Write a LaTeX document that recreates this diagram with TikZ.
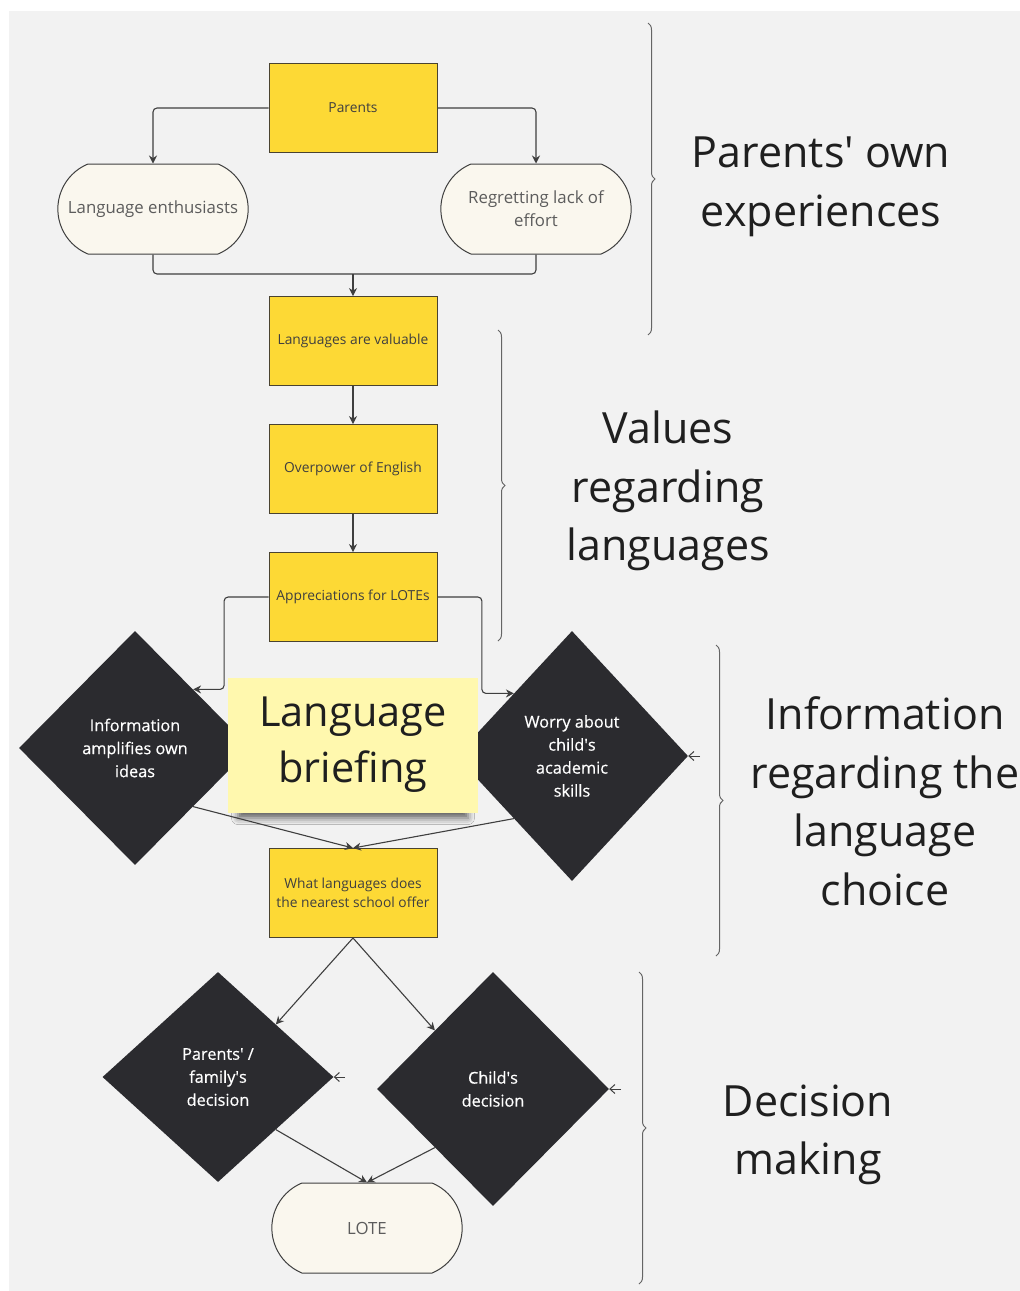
\documentclass[tikz,border=0pt]{standalone}
\usepackage{fontspec}
\setmainfont{Open Sans}
\newfontfamily\decfont{Open Sans}[FakeBold=0.45]
\usepackage{tikz}
\usetikzlibrary{shapes.geometric,shapes.misc,arrows.meta}
\usetikzlibrary{decorations.pathreplacing,shadows.blur}

\definecolor{bggray}{HTML}{F2F2F2}
\definecolor{boxyellow}{HTML}{FDD935}
\definecolor{boxline}{HTML}{4A4330}
\definecolor{termcream}{HTML}{FAF7EE}
\definecolor{decdark}{HTML}{2B2B2F}
\definecolor{notepale}{HTML}{FFF8AE}
\definecolor{inkgray}{HTML}{3F3F3F}
\definecolor{labelink}{HTML}{1F1F1F}

\tikzset{
	box/.style={rectangle, draw=boxline, line width=0.9pt, fill=boxyellow, minimum width=168pt, minimum height=89pt, inner sep=2pt, align=center, text=inkgray, font=\fontsize{13.8}{19}\selectfont},
	term/.style={rounded rectangle, rounded rectangle arc length=135, draw=inkgray, line width=1pt, fill=termcream, minimum width=197pt, minimum height=90pt, align=center, text=inkgray!85, font=\fontsize{16.8}{23}\selectfont},
	dec/.style={diamond, fill=decdark, inner sep=0pt, align=center, text=white, font=\decfont\fontsize{16.3}{23}\selectfont},
	note/.style={rectangle, fill=notepale, minimum width=250pt, minimum height=135pt, align=center, text=labelink, font=\fontsize{41.5}{56}\selectfont, blur shadow={shadow xshift=0pt, shadow yshift=-12pt, shadow scale=0.92, shadow blur radius=7pt, shadow opacity=60}},
	lbl/.style={align=center, text=labelink, font=\fontsize{43}{58.5}\selectfont},
	arr/.style={-{Stealth[length=8pt,width=8pt]}, inkgray, line width=1.1pt},
	stub/.style={-{Straight Barb[length=5pt,width=9pt]}, inkgray, line width=1pt},
	brc/.style={decorate, decoration={brace, amplitude=7pt}, draw=inkgray!80, line width=1pt},
}

\begin{document}
\begin{tikzpicture}[x=1pt, y=-1pt]
	\useasboundingbox (0,0) rectangle (1020,1291);
	\fill[bggray] (9,11) rectangle (1020,1291);

	\node[box] (parents) at (353,108) {Parents};
	\node[term] (enth) at (153,209) {Language enthusiasts};
	\node[term] (regret) at (536,209) {Regretting lack of\\effort};
	\node[box] (valuable) at (353,341) {Languages are valuable};
	\node[box] (overpower) at (353,469) {Overpower of English};
	\node[box] (apprec) at (353,597) {Appreciations for LOTEs};
	\node[dec, minimum width=232pt, minimum height=234pt] (infoamp) at (135,748) {Information\\amplifies own\\ideas};
	\node[dec, minimum width=232pt, minimum height=250pt] (worry) at (572,756) {Worry about\\child\textquotesingle s\\academic\\skills};
	\node[note] (briefing) at (353,745) {Language\\briefing};
	\node[box] (school) at (353,893) {What languages does\\the nearest school offer};
	\node[dec, minimum width=231pt, minimum height=210pt] (familydec) at (218,1077) {Parents\textquotesingle\ /\\family\textquotesingle s\\decision};
	\node[dec, minimum width=232pt, minimum height=234pt] (kiddec) at (493,1089) {Child\textquotesingle s\\decision};
	\node[term] (lote) at (367,1228) {LOTE};

	\node[lbl] (own) at (821,187) {Parents\textquotesingle\ own\\experiences};
	\node[lbl] (values) at (668,491) {Values\\regarding\\languages};
	\node[lbl] (infochoice) at (885,801) {Information\\regarding the\\language\\choice};
	\node[lbl] (deciding) at (808,1135) {Decision\\making};

	\coordinate (join) at (353,274);
	\coordinate (worryin) at (700,756);
	\coordinate (familyin) at (345,1077);
	\coordinate (kidin) at (621,1089);

	\draw[arr, rounded corners=4pt] (parents.west) -| (enth.north);
	\draw[arr, rounded corners=4pt] (parents.east) -| (regret.north);
	\draw[inkgray, line width=1.1pt, rounded corners=4pt] (enth.south) |- (join) -| (regret.south);
	\draw[arr] (join) -- (valuable.north);
	\path[arr]
	(valuable) edge (overpower)
	(overpower) edge (apprec)
	(infoamp.south east) edge (school.north)
	(worry.south west) edge (school.north)
	(school.south) edge (familydec.north east)
	(school.south) edge (kiddec.north west)
	(familydec.south east) edge (lote.north)
	(kiddec.south west) edge (lote.north)
	;
	\draw[arr, rounded corners=4pt] (apprec.west) -| ($(infoamp.north east)+(31,0)$) -- (infoamp.north east);
	\draw[arr, rounded corners=4pt] (apprec.east) -| ($(worry.north west)+(-32,0)$) -- (worry.north west);
	\path[stub]
	(worryin) edge (worry.east)
	(familyin) edge (familydec.east)
	(kidin) edge (kiddec.east)
	;

	\draw[brc] (648,23) -- (648,335);
	\draw[brc] (498,330) -- (498,641);
	\draw[brc] (716,645) -- (716,956);
	\draw[brc] (639,972) -- (639,1284);
\end{tikzpicture}
\end{document}
